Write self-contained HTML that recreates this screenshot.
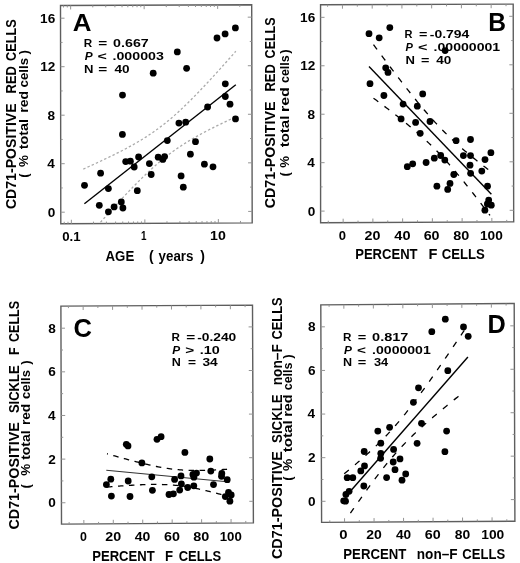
<!DOCTYPE html>
<html><head><meta charset="utf-8"><style>
html,body{margin:0;padding:0;background:#fff;}
svg{display:block;font-family:"Liberation Sans",sans-serif;filter:grayscale(1) blur(0.35px);}
text{white-space:pre;}
</style></head><body>
<svg width="520" height="563" viewBox="0 0 520 563">
<defs><clipPath id="clipA"><rect x="61.5" y="5.7" width="189.6" height="217.1"/></clipPath></defs>
<rect width="520" height="563" fill="#fff"/>
<path d="M60.50,5.50 L251.70,4.80 L252.20,222.90 L60.80,223.80 Z" fill="none" stroke="#5e5e5e" stroke-width="1.4" stroke-linejoin="miter"/>
<line x1="60.78" y1="212.20" x2="64.78" y2="212.20" stroke="#949494" stroke-width="1.0" />
<line x1="252.17" y1="211.40" x2="248.17" y2="211.40" stroke="#949494" stroke-width="1.0" />
<line x1="60.72" y1="163.70" x2="64.72" y2="163.70" stroke="#949494" stroke-width="1.0" />
<line x1="252.06" y1="162.84" x2="248.06" y2="162.84" stroke="#949494" stroke-width="1.0" />
<line x1="60.65" y1="115.20" x2="64.65" y2="115.20" stroke="#949494" stroke-width="1.0" />
<line x1="251.95" y1="114.28" x2="247.95" y2="114.28" stroke="#949494" stroke-width="1.0" />
<line x1="60.58" y1="66.70" x2="64.58" y2="66.70" stroke="#949494" stroke-width="1.0" />
<line x1="251.84" y1="65.72" x2="247.84" y2="65.72" stroke="#949494" stroke-width="1.0" />
<line x1="60.52" y1="18.20" x2="64.52" y2="18.20" stroke="#949494" stroke-width="1.0" />
<line x1="251.73" y1="17.16" x2="247.73" y2="17.16" stroke="#949494" stroke-width="1.0" />
<line x1="60.75" y1="187.95" x2="62.75" y2="187.95" stroke="#949494" stroke-width="1.0" />
<line x1="252.12" y1="187.12" x2="250.12" y2="187.12" stroke="#949494" stroke-width="1.0" />
<line x1="60.68" y1="139.45" x2="62.68" y2="139.45" stroke="#949494" stroke-width="1.0" />
<line x1="252.01" y1="138.56" x2="250.01" y2="138.56" stroke="#949494" stroke-width="1.0" />
<line x1="60.62" y1="90.95" x2="62.62" y2="90.95" stroke="#949494" stroke-width="1.0" />
<line x1="251.90" y1="90.00" x2="249.90" y2="90.00" stroke="#949494" stroke-width="1.0" />
<line x1="60.55" y1="42.45" x2="62.55" y2="42.45" stroke="#949494" stroke-width="1.0" />
<line x1="251.78" y1="41.44" x2="249.78" y2="41.44" stroke="#949494" stroke-width="1.0" />
<line x1="71.35" y1="223.75" x2="71.35" y2="219.75" stroke="#949494" stroke-width="1.0" />
<line x1="70.65" y1="5.46" x2="70.65" y2="9.46" stroke="#949494" stroke-width="1.0" />
<line x1="144.85" y1="223.40" x2="144.85" y2="219.40" stroke="#949494" stroke-width="1.0" />
<line x1="144.15" y1="5.19" x2="144.15" y2="9.19" stroke="#949494" stroke-width="1.0" />
<line x1="218.35" y1="223.06" x2="218.35" y2="219.06" stroke="#949494" stroke-width="1.0" />
<line x1="217.65" y1="4.92" x2="217.65" y2="8.92" stroke="#949494" stroke-width="1.0" />
<line x1="64.23" y1="223.78" x2="64.23" y2="221.78" stroke="#949494" stroke-width="1.0" />
<line x1="63.53" y1="5.49" x2="63.53" y2="7.49" stroke="#949494" stroke-width="1.0" />
<line x1="67.99" y1="223.77" x2="67.99" y2="221.77" stroke="#949494" stroke-width="1.0" />
<line x1="67.29" y1="5.48" x2="67.29" y2="7.48" stroke="#949494" stroke-width="1.0" />
<line x1="93.48" y1="223.65" x2="93.48" y2="221.65" stroke="#949494" stroke-width="1.0" />
<line x1="92.78" y1="5.38" x2="92.78" y2="7.38" stroke="#949494" stroke-width="1.0" />
<line x1="106.42" y1="223.59" x2="106.42" y2="221.59" stroke="#949494" stroke-width="1.0" />
<line x1="105.72" y1="5.33" x2="105.72" y2="7.33" stroke="#949494" stroke-width="1.0" />
<line x1="115.60" y1="223.54" x2="115.60" y2="221.54" stroke="#949494" stroke-width="1.0" />
<line x1="114.90" y1="5.30" x2="114.90" y2="7.30" stroke="#949494" stroke-width="1.0" />
<line x1="122.72" y1="223.51" x2="122.72" y2="221.51" stroke="#949494" stroke-width="1.0" />
<line x1="122.02" y1="5.27" x2="122.02" y2="7.27" stroke="#949494" stroke-width="1.0" />
<line x1="128.54" y1="223.48" x2="128.54" y2="221.48" stroke="#949494" stroke-width="1.0" />
<line x1="127.84" y1="5.25" x2="127.84" y2="7.25" stroke="#949494" stroke-width="1.0" />
<line x1="133.46" y1="223.46" x2="133.46" y2="221.46" stroke="#949494" stroke-width="1.0" />
<line x1="132.76" y1="5.24" x2="132.76" y2="7.24" stroke="#949494" stroke-width="1.0" />
<line x1="137.73" y1="223.44" x2="137.73" y2="221.44" stroke="#949494" stroke-width="1.0" />
<line x1="137.03" y1="5.22" x2="137.03" y2="7.22" stroke="#949494" stroke-width="1.0" />
<line x1="141.49" y1="223.42" x2="141.49" y2="221.42" stroke="#949494" stroke-width="1.0" />
<line x1="140.79" y1="5.21" x2="140.79" y2="7.21" stroke="#949494" stroke-width="1.0" />
<line x1="166.98" y1="223.30" x2="166.98" y2="221.30" stroke="#949494" stroke-width="1.0" />
<line x1="166.28" y1="5.11" x2="166.28" y2="7.11" stroke="#949494" stroke-width="1.0" />
<line x1="179.92" y1="223.24" x2="179.92" y2="221.24" stroke="#949494" stroke-width="1.0" />
<line x1="179.22" y1="5.07" x2="179.22" y2="7.07" stroke="#949494" stroke-width="1.0" />
<line x1="189.10" y1="223.20" x2="189.10" y2="221.20" stroke="#949494" stroke-width="1.0" />
<line x1="188.40" y1="5.03" x2="188.40" y2="7.03" stroke="#949494" stroke-width="1.0" />
<line x1="196.22" y1="223.16" x2="196.22" y2="221.16" stroke="#949494" stroke-width="1.0" />
<line x1="195.52" y1="5.01" x2="195.52" y2="7.01" stroke="#949494" stroke-width="1.0" />
<line x1="202.04" y1="223.14" x2="202.04" y2="221.14" stroke="#949494" stroke-width="1.0" />
<line x1="201.34" y1="4.98" x2="201.34" y2="6.98" stroke="#949494" stroke-width="1.0" />
<line x1="206.96" y1="223.11" x2="206.96" y2="221.11" stroke="#949494" stroke-width="1.0" />
<line x1="206.26" y1="4.97" x2="206.26" y2="6.97" stroke="#949494" stroke-width="1.0" />
<line x1="211.23" y1="223.09" x2="211.23" y2="221.09" stroke="#949494" stroke-width="1.0" />
<line x1="210.53" y1="4.95" x2="210.53" y2="6.95" stroke="#949494" stroke-width="1.0" />
<line x1="214.99" y1="223.07" x2="214.99" y2="221.07" stroke="#949494" stroke-width="1.0" />
<line x1="214.29" y1="4.94" x2="214.29" y2="6.94" stroke="#949494" stroke-width="1.0" />
<line x1="240.48" y1="222.96" x2="240.48" y2="220.96" stroke="#949494" stroke-width="1.0" />
<line x1="239.78" y1="4.84" x2="239.78" y2="6.84" stroke="#949494" stroke-width="1.0" />
<text x="47.74" y="216.60" font-size="12.6" font-weight="bold" textLength="7.57" lengthAdjust="spacingAndGlyphs">0</text>
<text x="47.25" y="168.10" font-size="12.6" font-weight="bold" textLength="7.57" lengthAdjust="spacingAndGlyphs">4</text>
<text x="47.61" y="119.60" font-size="12.6" font-weight="bold" textLength="7.57" lengthAdjust="spacingAndGlyphs">8</text>
<text x="40.16" y="71.10" font-size="12.6" font-weight="bold" textLength="15.14" lengthAdjust="spacingAndGlyphs">12</text>
<text x="40.11" y="22.60" font-size="12.6" font-weight="bold" textLength="15.14" lengthAdjust="spacingAndGlyphs">16</text>
<text x="62.17" y="240.80" font-size="12.6" font-weight="bold" textLength="18.40" lengthAdjust="spacingAndGlyphs">0.1</text>
<text x="141.08" y="240.00" font-size="12.6" font-weight="bold" textLength="5.50" lengthAdjust="spacingAndGlyphs">1</text>
<text x="210.01" y="240.00" font-size="12.6" font-weight="bold" textLength="15.78" lengthAdjust="spacingAndGlyphs">10</text>
<text x="105.57" y="260.80" font-size="14" font-weight="bold" textLength="28.65" lengthAdjust="spacingAndGlyphs">AGE</text>
<text x="149.10" y="260.80" font-size="14" font-weight="bold" textLength="4.66" lengthAdjust="spacingAndGlyphs">(</text>
<text x="158.59" y="260.80" font-size="14" font-weight="bold" textLength="34.85" lengthAdjust="spacingAndGlyphs">years</text>
<text x="200.19" y="260.80" font-size="14" font-weight="bold" textLength="4.66" lengthAdjust="spacingAndGlyphs">)</text>
<text transform="translate(16.20,208.50) rotate(-90)" x="-0.58" y="0" font-size="13.8" font-weight="bold" textLength="105.73" lengthAdjust="spacingAndGlyphs">CD71-POSITIVE</text>
<text transform="translate(16.20,92.60) rotate(-90)" x="-0.87" y="0" font-size="13.8" font-weight="bold" textLength="27.31" lengthAdjust="spacingAndGlyphs">RED</text>
<text transform="translate(16.20,60.40) rotate(-90)" x="-0.52" y="0" font-size="13.8" font-weight="bold" textLength="41.51" lengthAdjust="spacingAndGlyphs">CELLS</text>
<text transform="translate(27.80,177.20) rotate(-90)" x="-0.66" y="0" font-size="13.2" font-weight="bold" textLength="4.40" lengthAdjust="spacingAndGlyphs">(</text>
<text transform="translate(27.80,166.60) rotate(-90)" x="-0.33" y="0" font-size="13.2" font-weight="bold" textLength="11.88" lengthAdjust="spacingAndGlyphs">%</text>
<text transform="translate(27.80,149.20) rotate(-90)" x="-0.17" y="0" font-size="13.2" font-weight="bold" textLength="30.39" lengthAdjust="spacingAndGlyphs">total</text>
<text transform="translate(27.80,111.80) rotate(-90)" x="-0.92" y="0" font-size="13.2" font-weight="bold" textLength="21.75" lengthAdjust="spacingAndGlyphs">red</text>
<text transform="translate(27.80,86.90) rotate(-90)" x="-0.52" y="0" font-size="13.2" font-weight="bold" textLength="29.46" lengthAdjust="spacingAndGlyphs">cells</text>
<text transform="translate(27.80,54.42) rotate(-90)" x="-0.01" y="0" font-size="13.2" font-weight="bold" textLength="4.40" lengthAdjust="spacingAndGlyphs">)</text>
<text x="72.65" y="30.90" font-size="24.6" font-weight="bold" textLength="18.73" lengthAdjust="spacingAndGlyphs">A</text>
<text x="83.82" y="46.60" font-size="11.8" font-weight="bold" textLength="8.43" lengthAdjust="spacingAndGlyphs">R</text>
<text x="98.15" y="46.60" font-size="11.8" font-weight="bold" textLength="8.98" lengthAdjust="spacingAndGlyphs">=</text>
<text x="113.13" y="46.60" font-size="11.8" font-weight="bold" textLength="35.60" lengthAdjust="spacingAndGlyphs">0.667</text>
<text x="84.69" y="59.60" font-size="11.8" font-weight="bold" font-style="italic" textLength="7.90" lengthAdjust="spacingAndGlyphs">P</text>
<text x="97.53" y="59.60" font-size="11.8" font-weight="bold" textLength="9.33" lengthAdjust="spacingAndGlyphs">&lt;</text>
<text x="112.54" y="59.60" font-size="11.8" font-weight="bold" textLength="51.27" lengthAdjust="spacingAndGlyphs">.000003</text>
<text x="84.02" y="72.70" font-size="11.8" font-weight="bold" textLength="9.46" lengthAdjust="spacingAndGlyphs">N</text>
<text x="98.15" y="72.70" font-size="11.8" font-weight="bold" textLength="8.98" lengthAdjust="spacingAndGlyphs">=</text>
<text x="114.40" y="72.70" font-size="11.8" font-weight="bold" textLength="15.06" lengthAdjust="spacingAndGlyphs">40</text>
<g clip-path="url(#clipA)">
<path d="M83.30,169.08 L85.21,168.23 L87.11,167.37 L89.02,166.51 L90.92,165.64 L92.83,164.77 L94.74,163.90 L96.64,163.02 L98.55,162.13 L100.46,161.24 L102.36,160.34 L104.27,159.44 L106.17,158.53 L108.08,157.62 L109.99,156.69 L111.89,155.76 L113.80,154.82 L115.71,153.87 L117.61,152.91 L119.52,151.94 L121.42,150.97 L123.33,149.97 L125.24,148.97 L127.14,147.95 L129.05,146.92 L130.96,145.88 L132.86,144.81 L134.77,143.73 L136.68,142.63 L138.58,141.52 L140.49,140.38 L142.39,139.22 L144.30,138.03 L146.21,136.83 L148.11,135.59 L150.02,134.33 L151.93,133.04 L153.83,131.72 L155.74,130.38 L157.64,129.00 L159.55,127.59 L161.46,126.14 L163.36,124.67 L165.27,123.16 L167.18,121.61 L169.08,120.04 L170.99,118.43 L172.89,116.79 L174.80,115.12 L176.71,113.42 L178.61,111.69 L180.52,109.93 L182.43,108.14 L184.33,106.32 L186.24,104.49 L188.14,102.62 L190.05,100.74 L191.96,98.83 L193.86,96.91 L195.77,94.96 L197.68,93.00 L199.58,91.02 L201.49,89.02 L203.39,87.01 L205.30,84.99 L207.21,82.95 L209.11,80.90 L211.02,78.84 L212.93,76.77 L214.83,74.69 L216.74,72.60 L218.64,70.50 L220.55,68.40 L222.46,66.28 L224.36,64.16 L226.27,62.03 L228.18,59.90 L230.08,57.76 L231.99,55.61 L233.89,53.46 L235.80,51.30" fill="none" stroke="#aaaaaa" stroke-width="1.3" stroke-dasharray="2.4 2.2"/>
<path d="M100.46,222.32 L102.36,220.18 L104.27,218.05 L106.17,215.93 L108.08,213.81 L109.99,211.70 L111.89,209.60 L113.80,207.50 L115.71,205.42 L117.61,203.34 L119.52,201.28 L121.42,199.22 L123.33,197.18 L125.24,195.15 L127.14,193.13 L129.05,191.13 L130.96,189.14 L132.86,187.17 L134.77,185.22 L136.68,183.28 L138.58,181.37 L140.49,179.47 L142.39,177.60 L144.30,175.75 L146.21,173.93 L148.11,172.13 L150.02,170.35 L151.93,168.61 L153.83,166.89 L155.74,165.21 L157.64,163.55 L159.55,161.93 L161.46,160.34 L163.36,158.78 L165.27,157.26 L167.18,155.77 L169.08,154.31 L170.99,152.88 L172.89,151.49 L174.80,150.13 L176.71,148.80 L178.61,147.49 L180.52,146.22 L182.43,144.97 L184.33,143.75 L186.24,142.56 L188.14,141.39 L190.05,140.24 L191.96,139.11 L193.86,138.01 L195.77,136.92 L197.68,135.85 L199.58,134.79 L201.49,133.76 L203.39,132.73 L205.30,131.72 L207.21,130.73 L209.11,129.74 L211.02,128.77 L212.93,127.80 L214.83,126.85 L216.74,125.91 L218.64,124.97 L220.55,124.05 L222.46,123.13 L224.36,122.21 L226.27,121.31 L228.18,120.41 L230.08,119.52 L231.99,118.63 L233.89,117.75 L235.80,116.87" fill="none" stroke="#aaaaaa" stroke-width="1.3" stroke-dasharray="2.4 2.2"/>
</g>
<line x1="84.40" y1="203.80" x2="235.80" y2="84.80" stroke="#000" stroke-width="1.4" />
<circle cx="153.2" cy="73.2" r="3.4"/>
<circle cx="122.5" cy="95.1" r="3.4"/>
<circle cx="177.3" cy="51.9" r="3.4"/>
<circle cx="186.6" cy="68.3" r="3.4"/>
<circle cx="217.0" cy="38.0" r="3.4"/>
<circle cx="225.1" cy="33.9" r="3.4"/>
<circle cx="235.4" cy="27.9" r="3.4"/>
<circle cx="225.3" cy="83.8" r="3.4"/>
<circle cx="225.3" cy="96.5" r="3.4"/>
<circle cx="230.0" cy="104.2" r="3.4"/>
<circle cx="207.6" cy="107.0" r="3.4"/>
<circle cx="122.4" cy="134.4" r="3.4"/>
<circle cx="125.7" cy="161.6" r="3.4"/>
<circle cx="130.4" cy="161.2" r="3.4"/>
<circle cx="138.6" cy="157.0" r="3.4"/>
<circle cx="134.2" cy="167.0" r="3.4"/>
<circle cx="149.4" cy="163.6" r="3.4"/>
<circle cx="158.2" cy="157.2" r="3.4"/>
<circle cx="151.2" cy="174.5" r="3.4"/>
<circle cx="100.6" cy="173.2" r="3.4"/>
<circle cx="84.5" cy="185.3" r="3.4"/>
<circle cx="108.4" cy="188.6" r="3.4"/>
<circle cx="137.3" cy="190.7" r="3.4"/>
<circle cx="99.3" cy="205.3" r="3.4"/>
<circle cx="108.4" cy="211.8" r="3.4"/>
<circle cx="114.1" cy="206.9" r="3.4"/>
<circle cx="121.3" cy="202.0" r="3.4"/>
<circle cx="122.9" cy="208.0" r="3.4"/>
<circle cx="235.5" cy="118.9" r="3.4"/>
<circle cx="178.9" cy="123.1" r="3.4"/>
<circle cx="185.7" cy="122.2" r="3.4"/>
<circle cx="167.3" cy="140.6" r="3.4"/>
<circle cx="195.5" cy="141.7" r="3.4"/>
<circle cx="190.4" cy="154.2" r="3.4"/>
<circle cx="164.6" cy="156.6" r="3.4"/>
<circle cx="162.8" cy="159.4" r="3.4"/>
<circle cx="204.4" cy="164.2" r="3.4"/>
<circle cx="213.0" cy="166.8" r="3.4"/>
<circle cx="181.1" cy="175.9" r="3.4"/>
<circle cx="183.3" cy="187.2" r="3.4"/>
<path d="M320.55,4.77 L513.20,4.15 L513.70,221.85 L320.60,222.80 Z" fill="none" stroke="#5e5e5e" stroke-width="1.4" stroke-linejoin="miter"/>
<line x1="320.60" y1="211.10" x2="324.60" y2="211.10" stroke="#949494" stroke-width="1.0" />
<line x1="513.67" y1="210.30" x2="509.67" y2="210.30" stroke="#949494" stroke-width="1.0" />
<line x1="320.59" y1="162.66" x2="324.59" y2="162.66" stroke="#949494" stroke-width="1.0" />
<line x1="513.56" y1="161.80" x2="509.56" y2="161.80" stroke="#949494" stroke-width="1.0" />
<line x1="320.58" y1="114.22" x2="324.58" y2="114.22" stroke="#949494" stroke-width="1.0" />
<line x1="513.45" y1="113.30" x2="509.45" y2="113.30" stroke="#949494" stroke-width="1.0" />
<line x1="320.56" y1="65.78" x2="324.56" y2="65.78" stroke="#949494" stroke-width="1.0" />
<line x1="513.34" y1="64.80" x2="509.34" y2="64.80" stroke="#949494" stroke-width="1.0" />
<line x1="320.55" y1="17.34" x2="324.55" y2="17.34" stroke="#949494" stroke-width="1.0" />
<line x1="513.23" y1="16.30" x2="509.23" y2="16.30" stroke="#949494" stroke-width="1.0" />
<line x1="320.59" y1="186.88" x2="322.59" y2="186.88" stroke="#949494" stroke-width="1.0" />
<line x1="513.62" y1="186.05" x2="511.62" y2="186.05" stroke="#949494" stroke-width="1.0" />
<line x1="320.58" y1="138.44" x2="322.58" y2="138.44" stroke="#949494" stroke-width="1.0" />
<line x1="513.51" y1="137.55" x2="511.51" y2="137.55" stroke="#949494" stroke-width="1.0" />
<line x1="320.57" y1="90.00" x2="322.57" y2="90.00" stroke="#949494" stroke-width="1.0" />
<line x1="513.39" y1="89.05" x2="511.39" y2="89.05" stroke="#949494" stroke-width="1.0" />
<line x1="320.56" y1="41.56" x2="322.56" y2="41.56" stroke="#949494" stroke-width="1.0" />
<line x1="513.28" y1="40.55" x2="511.28" y2="40.55" stroke="#949494" stroke-width="1.0" />
<line x1="343.15" y1="222.69" x2="343.15" y2="218.69" stroke="#949494" stroke-width="1.0" />
<line x1="342.45" y1="4.70" x2="342.45" y2="8.70" stroke="#949494" stroke-width="1.0" />
<line x1="372.89" y1="222.54" x2="372.89" y2="218.54" stroke="#949494" stroke-width="1.0" />
<line x1="372.19" y1="4.60" x2="372.19" y2="8.60" stroke="#949494" stroke-width="1.0" />
<line x1="402.63" y1="222.40" x2="402.63" y2="218.40" stroke="#949494" stroke-width="1.0" />
<line x1="401.93" y1="4.51" x2="401.93" y2="8.51" stroke="#949494" stroke-width="1.0" />
<line x1="432.37" y1="222.25" x2="432.37" y2="218.25" stroke="#949494" stroke-width="1.0" />
<line x1="431.67" y1="4.41" x2="431.67" y2="8.41" stroke="#949494" stroke-width="1.0" />
<line x1="462.11" y1="222.10" x2="462.11" y2="218.10" stroke="#949494" stroke-width="1.0" />
<line x1="461.41" y1="4.32" x2="461.41" y2="8.32" stroke="#949494" stroke-width="1.0" />
<line x1="491.85" y1="221.96" x2="491.85" y2="217.96" stroke="#949494" stroke-width="1.0" />
<line x1="491.15" y1="4.22" x2="491.15" y2="8.22" stroke="#949494" stroke-width="1.0" />
<line x1="328.28" y1="222.76" x2="328.28" y2="220.76" stroke="#949494" stroke-width="1.0" />
<line x1="327.58" y1="4.75" x2="327.58" y2="6.75" stroke="#949494" stroke-width="1.0" />
<line x1="358.02" y1="222.62" x2="358.02" y2="220.62" stroke="#949494" stroke-width="1.0" />
<line x1="357.32" y1="4.65" x2="357.32" y2="6.65" stroke="#949494" stroke-width="1.0" />
<line x1="387.76" y1="222.47" x2="387.76" y2="220.47" stroke="#949494" stroke-width="1.0" />
<line x1="387.06" y1="4.56" x2="387.06" y2="6.56" stroke="#949494" stroke-width="1.0" />
<line x1="417.50" y1="222.32" x2="417.50" y2="220.32" stroke="#949494" stroke-width="1.0" />
<line x1="416.80" y1="4.46" x2="416.80" y2="6.46" stroke="#949494" stroke-width="1.0" />
<line x1="447.24" y1="222.18" x2="447.24" y2="220.18" stroke="#949494" stroke-width="1.0" />
<line x1="446.54" y1="4.36" x2="446.54" y2="6.36" stroke="#949494" stroke-width="1.0" />
<line x1="476.98" y1="222.03" x2="476.98" y2="220.03" stroke="#949494" stroke-width="1.0" />
<line x1="476.28" y1="4.27" x2="476.28" y2="6.27" stroke="#949494" stroke-width="1.0" />
<line x1="506.72" y1="221.88" x2="506.72" y2="219.88" stroke="#949494" stroke-width="1.0" />
<line x1="506.02" y1="4.17" x2="506.02" y2="6.17" stroke="#949494" stroke-width="1.0" />
<text x="307.74" y="215.50" font-size="12.6" font-weight="bold" textLength="7.57" lengthAdjust="spacingAndGlyphs">0</text>
<text x="307.25" y="167.06" font-size="12.6" font-weight="bold" textLength="7.57" lengthAdjust="spacingAndGlyphs">4</text>
<text x="307.61" y="118.62" font-size="12.6" font-weight="bold" textLength="7.57" lengthAdjust="spacingAndGlyphs">8</text>
<text x="300.16" y="70.18" font-size="12.6" font-weight="bold" textLength="15.14" lengthAdjust="spacingAndGlyphs">12</text>
<text x="300.11" y="21.74" font-size="12.6" font-weight="bold" textLength="15.14" lengthAdjust="spacingAndGlyphs">16</text>
<text x="338.88" y="239.80" font-size="12.6" font-weight="bold" textLength="7.26" lengthAdjust="spacingAndGlyphs">0</text>
<text x="364.50" y="239.80" font-size="12.6" font-weight="bold" textLength="15.89" lengthAdjust="spacingAndGlyphs">20</text>
<text x="394.38" y="239.80" font-size="12.6" font-weight="bold" textLength="16.22" lengthAdjust="spacingAndGlyphs">40</text>
<text x="423.67" y="239.80" font-size="12.6" font-weight="bold" textLength="15.92" lengthAdjust="spacingAndGlyphs">60</text>
<text x="453.34" y="239.80" font-size="12.6" font-weight="bold" textLength="16.06" lengthAdjust="spacingAndGlyphs">80</text>
<text x="479.94" y="239.80" font-size="12.6" font-weight="bold" textLength="22.83" lengthAdjust="spacingAndGlyphs">100</text>
<text x="355.23" y="259.20" font-size="14" font-weight="bold" textLength="62.31" lengthAdjust="spacingAndGlyphs">PERCENT</text>
<text x="428.52" y="259.20" font-size="14" font-weight="bold" textLength="8.92" lengthAdjust="spacingAndGlyphs">F</text>
<text x="441.66" y="259.20" font-size="14" font-weight="bold" textLength="43.05" lengthAdjust="spacingAndGlyphs">CELLS</text>
<text transform="translate(275.00,207.60) rotate(-90)" x="-0.58" y="0" font-size="13.8" font-weight="bold" textLength="106.54" lengthAdjust="spacingAndGlyphs">CD71-POSITIVE</text>
<text transform="translate(275.00,90.70) rotate(-90)" x="-0.87" y="0" font-size="13.8" font-weight="bold" textLength="27.42" lengthAdjust="spacingAndGlyphs">RED</text>
<text transform="translate(275.00,57.90) rotate(-90)" x="-0.51" y="0" font-size="13.8" font-weight="bold" textLength="41.00" lengthAdjust="spacingAndGlyphs">CELLS</text>
<text transform="translate(288.60,175.80) rotate(-90)" x="-0.66" y="0" font-size="13.2" font-weight="bold" textLength="4.40" lengthAdjust="spacingAndGlyphs">(</text>
<text transform="translate(288.60,167.30) rotate(-90)" x="-0.33" y="0" font-size="13.2" font-weight="bold" textLength="11.78" lengthAdjust="spacingAndGlyphs">%</text>
<text transform="translate(288.60,147.10) rotate(-90)" x="-0.18" y="0" font-size="13.2" font-weight="bold" textLength="31.64" lengthAdjust="spacingAndGlyphs">total</text>
<text transform="translate(288.60,111.00) rotate(-90)" x="-1.05" y="0" font-size="13.2" font-weight="bold" textLength="24.81" lengthAdjust="spacingAndGlyphs">red</text>
<text transform="translate(288.60,82.60) rotate(-90)" x="-0.49" y="0" font-size="13.2" font-weight="bold" textLength="27.91" lengthAdjust="spacingAndGlyphs">cells</text>
<text transform="translate(288.60,53.72) rotate(-90)" x="-0.01" y="0" font-size="13.2" font-weight="bold" textLength="4.40" lengthAdjust="spacingAndGlyphs">)</text>
<text x="488.35" y="30.80" font-size="25.9" font-weight="bold" textLength="17.76" lengthAdjust="spacingAndGlyphs">B</text>
<text x="404.56" y="38.00" font-size="11.8" font-weight="bold" textLength="7.97" lengthAdjust="spacingAndGlyphs">R</text>
<text x="419.10" y="38.00" font-size="11.8" font-weight="bold" textLength="8.39" lengthAdjust="spacingAndGlyphs">=</text>
<text x="429.76" y="38.00" font-size="11.8" font-weight="bold" textLength="39.52" lengthAdjust="spacingAndGlyphs">-0.794</text>
<text x="405.60" y="51.00" font-size="11.8" font-weight="bold" font-style="italic" textLength="7.39" lengthAdjust="spacingAndGlyphs">P</text>
<text x="418.12" y="51.00" font-size="11.8" font-weight="bold" textLength="9.44" lengthAdjust="spacingAndGlyphs">&lt;</text>
<text x="433.64" y="51.00" font-size="11.8" font-weight="bold" textLength="66.55" lengthAdjust="spacingAndGlyphs">.00000001</text>
<text x="405.42" y="63.80" font-size="11.8" font-weight="bold" textLength="9.46" lengthAdjust="spacingAndGlyphs">N</text>
<text x="421.00" y="63.80" font-size="11.8" font-weight="bold" textLength="8.39" lengthAdjust="spacingAndGlyphs">=</text>
<text x="436.30" y="63.80" font-size="11.8" font-weight="bold" textLength="15.06" lengthAdjust="spacingAndGlyphs">40</text>
<path d="M373.50,44.63 L374.96,46.59 L376.41,48.56 L377.87,50.52 L379.32,52.47 L380.78,54.42 L382.24,56.37 L383.69,58.32 L385.15,60.26 L386.61,62.20 L388.06,64.14 L389.52,66.07 L390.98,68.00 L392.43,69.92 L393.89,71.84 L395.34,73.75 L396.80,75.66 L398.26,77.56 L399.71,79.45 L401.17,81.34 L402.62,83.22 L404.08,85.10 L405.54,86.96 L406.99,88.82 L408.45,90.67 L409.91,92.51 L411.36,94.34 L412.82,96.16 L414.27,97.97 L415.73,99.77 L417.19,101.56 L418.64,103.33 L420.10,105.09 L421.56,106.84 L423.01,108.57 L424.47,110.29 L425.93,111.99 L427.38,113.68 L428.84,115.35 L430.29,117.00 L431.75,118.63 L433.21,120.25 L434.66,121.84 L436.12,123.42 L437.57,124.97 L439.03,126.51 L440.49,128.03 L441.94,129.53 L443.40,131.01 L444.86,132.47 L446.31,133.91 L447.77,135.33 L449.23,136.74 L450.68,138.12 L452.14,139.49 L453.59,140.84 L455.05,142.18 L456.51,143.50 L457.96,144.81 L459.42,146.10 L460.88,147.38 L462.33,148.64 L463.79,149.90 L465.24,151.14 L466.70,152.37 L468.16,153.59 L469.61,154.80 L471.07,156.00 L472.52,157.19 L473.98,158.37 L475.44,159.54 L476.89,160.71 L478.35,161.87 L479.81,163.02 L481.26,164.17 L482.72,165.31 L484.18,166.45 L485.63,167.58 L487.09,168.70 L488.54,169.82 L490.00,170.94" fill="none" stroke="#000" stroke-width="1.3" stroke-dasharray="6 7.7"/>
<path d="M373.50,98.16 L374.96,99.24 L376.41,100.33 L377.87,101.41 L379.32,102.50 L380.78,103.59 L382.24,104.69 L383.69,105.79 L385.15,106.89 L386.61,107.99 L388.06,109.10 L389.52,110.22 L390.98,111.33 L392.43,112.46 L393.89,113.58 L395.34,114.72 L396.80,115.85 L398.26,117.00 L399.71,118.15 L401.17,119.30 L402.62,120.47 L404.08,121.64 L405.54,122.81 L406.99,124.00 L408.45,125.20 L409.91,126.40 L411.36,127.61 L412.82,128.84 L414.27,130.07 L415.73,131.32 L417.19,132.58 L418.64,133.85 L420.10,135.13 L421.56,136.43 L423.01,137.74 L424.47,139.07 L425.93,140.41 L427.38,141.77 L428.84,143.15 L430.29,144.54 L431.75,145.95 L433.21,147.38 L434.66,148.83 L436.12,150.30 L437.57,151.79 L439.03,153.29 L440.49,154.82 L441.94,156.37 L443.40,157.93 L444.86,159.52 L446.31,161.12 L447.77,162.74 L449.23,164.38 L450.68,166.04 L452.14,167.72 L453.59,169.41 L455.05,171.12 L456.51,172.84 L457.96,174.58 L459.42,176.33 L460.88,178.10 L462.33,179.88 L463.79,181.67 L465.24,183.48 L466.70,185.29 L468.16,187.12 L469.61,188.95 L471.07,190.80 L472.52,192.65 L473.98,194.51 L475.44,196.38 L476.89,198.26 L478.35,200.14 L479.81,202.03 L481.26,203.93 L482.72,205.84 L484.18,207.74 L485.63,209.66 L487.09,211.58 L488.54,213.50 L490.00,215.43" fill="none" stroke="#000" stroke-width="1.3" stroke-dasharray="6 7.7"/>
<line x1="369.00" y1="66.50" x2="491.40" y2="194.30" stroke="#000" stroke-width="1.4" />
<circle cx="369.0" cy="33.7" r="3.4"/>
<circle cx="379.2" cy="37.8" r="3.4"/>
<circle cx="389.8" cy="27.6" r="3.4"/>
<circle cx="385.7" cy="67.8" r="3.4"/>
<circle cx="388.0" cy="72.4" r="3.4"/>
<circle cx="370.0" cy="83.7" r="3.4"/>
<circle cx="383.9" cy="95.5" r="3.4"/>
<circle cx="403.1" cy="104.1" r="3.4"/>
<circle cx="417.3" cy="106.2" r="3.4"/>
<circle cx="445.1" cy="50.6" r="3.4"/>
<circle cx="422.7" cy="93.9" r="3.4"/>
<circle cx="401.1" cy="118.9" r="3.4"/>
<circle cx="415.6" cy="122.4" r="3.4"/>
<circle cx="420.2" cy="133.3" r="3.4"/>
<circle cx="407.3" cy="166.7" r="3.4"/>
<circle cx="412.7" cy="163.8" r="3.4"/>
<circle cx="430.0" cy="121.5" r="3.4"/>
<circle cx="456.1" cy="140.7" r="3.4"/>
<circle cx="470.5" cy="139.5" r="3.4"/>
<circle cx="463.4" cy="155.6" r="3.4"/>
<circle cx="470.5" cy="155.6" r="3.4"/>
<circle cx="490.9" cy="152.7" r="3.4"/>
<circle cx="485.0" cy="159.6" r="3.4"/>
<circle cx="470.0" cy="165.2" r="3.4"/>
<circle cx="470.6" cy="173.3" r="3.4"/>
<circle cx="481.8" cy="171.1" r="3.4"/>
<circle cx="426.1" cy="162.5" r="3.4"/>
<circle cx="434.3" cy="158.2" r="3.4"/>
<circle cx="440.7" cy="155.5" r="3.4"/>
<circle cx="444.8" cy="160.1" r="3.4"/>
<circle cx="453.8" cy="174.5" r="3.4"/>
<circle cx="450.0" cy="183.4" r="3.4"/>
<circle cx="436.9" cy="186.2" r="3.4"/>
<circle cx="447.7" cy="189.4" r="3.4"/>
<circle cx="487.5" cy="186.2" r="3.4"/>
<circle cx="488.7" cy="200.1" r="3.4"/>
<circle cx="487.4" cy="204.0" r="3.4"/>
<circle cx="491.3" cy="205.2" r="3.4"/>
<circle cx="484.9" cy="210.2" r="3.4"/>
<path d="M60.90,306.15 L252.50,305.10 L253.40,522.90 L61.50,524.15 Z" fill="none" stroke="#5e5e5e" stroke-width="1.4" stroke-linejoin="miter"/>
<line x1="61.44" y1="502.75" x2="65.44" y2="502.75" stroke="#949494" stroke-width="1.0" />
<line x1="253.31" y1="501.30" x2="249.31" y2="501.30" stroke="#949494" stroke-width="1.0" />
<line x1="61.32" y1="459.11" x2="65.32" y2="459.11" stroke="#949494" stroke-width="1.0" />
<line x1="253.13" y1="457.70" x2="249.13" y2="457.70" stroke="#949494" stroke-width="1.0" />
<line x1="61.20" y1="415.47" x2="65.20" y2="415.47" stroke="#949494" stroke-width="1.0" />
<line x1="252.95" y1="414.10" x2="248.95" y2="414.10" stroke="#949494" stroke-width="1.0" />
<line x1="61.08" y1="371.83" x2="65.08" y2="371.83" stroke="#949494" stroke-width="1.0" />
<line x1="252.77" y1="370.50" x2="248.77" y2="370.50" stroke="#949494" stroke-width="1.0" />
<line x1="60.96" y1="328.19" x2="64.96" y2="328.19" stroke="#949494" stroke-width="1.0" />
<line x1="252.59" y1="326.90" x2="248.59" y2="326.90" stroke="#949494" stroke-width="1.0" />
<line x1="61.38" y1="480.93" x2="63.38" y2="480.93" stroke="#949494" stroke-width="1.0" />
<line x1="253.22" y1="479.50" x2="251.22" y2="479.50" stroke="#949494" stroke-width="1.0" />
<line x1="61.26" y1="437.29" x2="63.26" y2="437.29" stroke="#949494" stroke-width="1.0" />
<line x1="253.04" y1="435.90" x2="251.04" y2="435.90" stroke="#949494" stroke-width="1.0" />
<line x1="61.14" y1="393.65" x2="63.14" y2="393.65" stroke="#949494" stroke-width="1.0" />
<line x1="252.86" y1="392.30" x2="250.86" y2="392.30" stroke="#949494" stroke-width="1.0" />
<line x1="61.02" y1="350.01" x2="63.02" y2="350.01" stroke="#949494" stroke-width="1.0" />
<line x1="252.68" y1="348.70" x2="250.68" y2="348.70" stroke="#949494" stroke-width="1.0" />
<line x1="83.85" y1="524.00" x2="83.85" y2="520.00" stroke="#949494" stroke-width="1.0" />
<line x1="83.15" y1="306.03" x2="83.15" y2="310.03" stroke="#949494" stroke-width="1.0" />
<line x1="113.29" y1="523.81" x2="113.29" y2="519.81" stroke="#949494" stroke-width="1.0" />
<line x1="112.59" y1="305.87" x2="112.59" y2="309.87" stroke="#949494" stroke-width="1.0" />
<line x1="142.73" y1="523.62" x2="142.73" y2="519.62" stroke="#949494" stroke-width="1.0" />
<line x1="142.03" y1="305.71" x2="142.03" y2="309.71" stroke="#949494" stroke-width="1.0" />
<line x1="172.17" y1="523.43" x2="172.17" y2="519.43" stroke="#949494" stroke-width="1.0" />
<line x1="171.47" y1="305.54" x2="171.47" y2="309.54" stroke="#949494" stroke-width="1.0" />
<line x1="201.61" y1="523.24" x2="201.61" y2="519.24" stroke="#949494" stroke-width="1.0" />
<line x1="200.91" y1="305.38" x2="200.91" y2="309.38" stroke="#949494" stroke-width="1.0" />
<line x1="231.05" y1="523.05" x2="231.05" y2="519.05" stroke="#949494" stroke-width="1.0" />
<line x1="230.35" y1="305.22" x2="230.35" y2="309.22" stroke="#949494" stroke-width="1.0" />
<line x1="69.13" y1="524.10" x2="69.13" y2="522.10" stroke="#949494" stroke-width="1.0" />
<line x1="68.43" y1="306.11" x2="68.43" y2="308.11" stroke="#949494" stroke-width="1.0" />
<line x1="98.57" y1="523.91" x2="98.57" y2="521.91" stroke="#949494" stroke-width="1.0" />
<line x1="97.87" y1="305.95" x2="97.87" y2="307.95" stroke="#949494" stroke-width="1.0" />
<line x1="128.01" y1="523.72" x2="128.01" y2="521.72" stroke="#949494" stroke-width="1.0" />
<line x1="127.31" y1="305.79" x2="127.31" y2="307.79" stroke="#949494" stroke-width="1.0" />
<line x1="157.45" y1="523.52" x2="157.45" y2="521.52" stroke="#949494" stroke-width="1.0" />
<line x1="156.75" y1="305.62" x2="156.75" y2="307.62" stroke="#949494" stroke-width="1.0" />
<line x1="186.89" y1="523.33" x2="186.89" y2="521.33" stroke="#949494" stroke-width="1.0" />
<line x1="186.19" y1="305.46" x2="186.19" y2="307.46" stroke="#949494" stroke-width="1.0" />
<line x1="216.33" y1="523.14" x2="216.33" y2="521.14" stroke="#949494" stroke-width="1.0" />
<line x1="215.63" y1="305.30" x2="215.63" y2="307.30" stroke="#949494" stroke-width="1.0" />
<line x1="245.77" y1="522.95" x2="245.77" y2="520.95" stroke="#949494" stroke-width="1.0" />
<line x1="245.07" y1="305.14" x2="245.07" y2="307.14" stroke="#949494" stroke-width="1.0" />
<text x="48.39" y="507.15" font-size="12.6" font-weight="bold" textLength="7.57" lengthAdjust="spacingAndGlyphs">0</text>
<text x="48.38" y="463.51" font-size="12.6" font-weight="bold" textLength="7.57" lengthAdjust="spacingAndGlyphs">2</text>
<text x="47.90" y="419.87" font-size="12.6" font-weight="bold" textLength="7.57" lengthAdjust="spacingAndGlyphs">4</text>
<text x="48.32" y="376.23" font-size="12.6" font-weight="bold" textLength="7.57" lengthAdjust="spacingAndGlyphs">6</text>
<text x="48.26" y="332.59" font-size="12.6" font-weight="bold" textLength="7.57" lengthAdjust="spacingAndGlyphs">8</text>
<text x="79.90" y="540.80" font-size="12.6" font-weight="bold" textLength="6.91" lengthAdjust="spacingAndGlyphs">0</text>
<text x="105.30" y="540.80" font-size="12.6" font-weight="bold" textLength="15.89" lengthAdjust="spacingAndGlyphs">20</text>
<text x="134.79" y="540.80" font-size="12.6" font-weight="bold" textLength="15.59" lengthAdjust="spacingAndGlyphs">40</text>
<text x="164.07" y="540.80" font-size="12.6" font-weight="bold" textLength="15.92" lengthAdjust="spacingAndGlyphs">60</text>
<text x="193.34" y="540.80" font-size="12.6" font-weight="bold" textLength="16.06" lengthAdjust="spacingAndGlyphs">80</text>
<text x="219.77" y="540.80" font-size="12.6" font-weight="bold" textLength="22.08" lengthAdjust="spacingAndGlyphs">100</text>
<text x="92.22" y="560.60" font-size="14" font-weight="bold" textLength="62.51" lengthAdjust="spacingAndGlyphs">PERCENT</text>
<text x="164.91" y="560.60" font-size="14" font-weight="bold" textLength="8.07" lengthAdjust="spacingAndGlyphs">F</text>
<text x="178.67" y="560.60" font-size="14" font-weight="bold" textLength="42.43" lengthAdjust="spacingAndGlyphs">CELLS</text>
<text transform="translate(19.00,528.90) rotate(-90)" x="-0.59" y="0" font-size="13.8" font-weight="bold" textLength="107.24" lengthAdjust="spacingAndGlyphs">CD71-POSITIVE</text>
<text transform="translate(19.00,412.70) rotate(-90)" x="-0.38" y="0" font-size="13.8" font-weight="bold" textLength="47.68" lengthAdjust="spacingAndGlyphs">SICKLE</text>
<text transform="translate(19.00,354.20) rotate(-90)" x="-0.85" y="0" font-size="13.8" font-weight="bold" textLength="7.71" lengthAdjust="spacingAndGlyphs">F</text>
<text transform="translate(19.00,341.50) rotate(-90)" x="-0.51" y="0" font-size="13.8" font-weight="bold" textLength="41.10" lengthAdjust="spacingAndGlyphs">CELLS</text>
<text transform="translate(30.00,487.80) rotate(-90)" x="-0.66" y="0" font-size="13.2" font-weight="bold" textLength="4.40" lengthAdjust="spacingAndGlyphs">(</text>
<text transform="translate(30.00,475.30) rotate(-90)" x="-0.34" y="0" font-size="13.2" font-weight="bold" textLength="11.99" lengthAdjust="spacingAndGlyphs">%</text>
<text transform="translate(30.00,459.70) rotate(-90)" x="-0.17" y="0" font-size="13.2" font-weight="bold" textLength="29.56" lengthAdjust="spacingAndGlyphs">total</text>
<text transform="translate(30.00,424.20) rotate(-90)" x="-0.90" y="0" font-size="13.2" font-weight="bold" textLength="21.31" lengthAdjust="spacingAndGlyphs">red</text>
<text transform="translate(30.00,398.40) rotate(-90)" x="-0.51" y="0" font-size="13.2" font-weight="bold" textLength="28.84" lengthAdjust="spacingAndGlyphs">cells</text>
<text transform="translate(30.00,364.82) rotate(-90)" x="-0.01" y="0" font-size="13.2" font-weight="bold" textLength="4.40" lengthAdjust="spacingAndGlyphs">)</text>
<text x="73.55" y="336.50" font-size="25.5" font-weight="bold" textLength="18.44" lengthAdjust="spacingAndGlyphs">C</text>
<text x="171.52" y="340.80" font-size="11.8" font-weight="bold" textLength="8.43" lengthAdjust="spacingAndGlyphs">R</text>
<text x="186.25" y="340.80" font-size="11.8" font-weight="bold" textLength="8.98" lengthAdjust="spacingAndGlyphs">=</text>
<text x="197.16" y="340.80" font-size="11.8" font-weight="bold" textLength="39.11" lengthAdjust="spacingAndGlyphs">-0.240</text>
<text x="172.39" y="353.60" font-size="11.8" font-weight="bold" font-style="italic" textLength="7.90" lengthAdjust="spacingAndGlyphs">P</text>
<text x="185.15" y="353.60" font-size="11.8" font-weight="bold" textLength="8.98" lengthAdjust="spacingAndGlyphs">&gt;</text>
<text x="199.82" y="353.60" font-size="11.8" font-weight="bold" textLength="19.97" lengthAdjust="spacingAndGlyphs">.10</text>
<text x="171.76" y="366.30" font-size="11.8" font-weight="bold" textLength="9.09" lengthAdjust="spacingAndGlyphs">N</text>
<text x="187.92" y="366.30" font-size="11.8" font-weight="bold" textLength="8.04" lengthAdjust="spacingAndGlyphs">=</text>
<text x="202.48" y="366.30" font-size="11.8" font-weight="bold" textLength="15.29" lengthAdjust="spacingAndGlyphs">34</text>
<path d="M107.00,453.73 L108.55,454.17 L110.10,454.62 L111.65,455.06 L113.20,455.50 L114.75,455.94 L116.30,456.38 L117.85,456.81 L119.40,457.25 L120.95,457.68 L122.50,458.10 L124.05,458.53 L125.60,458.95 L127.15,459.37 L128.70,459.79 L130.25,460.20 L131.80,460.61 L133.35,461.02 L134.90,461.42 L136.45,461.82 L138.00,462.22 L139.55,462.61 L141.10,462.99 L142.65,463.37 L144.20,463.74 L145.75,464.11 L147.30,464.47 L148.85,464.83 L150.40,465.18 L151.95,465.52 L153.50,465.85 L155.05,466.17 L156.60,466.49 L158.15,466.79 L159.70,467.09 L161.25,467.37 L162.80,467.64 L164.35,467.91 L165.90,468.16 L167.45,468.40 L169.00,468.62 L170.55,468.84 L172.10,469.04 L173.65,469.22 L175.20,469.40 L176.75,469.56 L178.30,469.70 L179.85,469.84 L181.40,469.96 L182.95,470.06 L184.50,470.16 L186.05,470.24 L187.60,470.31 L189.15,470.36 L190.70,470.41 L192.25,470.44 L193.80,470.47 L195.35,470.48 L196.90,470.49 L198.45,470.48 L200.00,470.47 L201.55,470.45 L203.10,470.42 L204.65,470.38 L206.20,470.34 L207.75,470.29 L209.30,470.23 L210.85,470.17 L212.40,470.10 L213.95,470.03 L215.50,469.95 L217.05,469.87 L218.60,469.79 L220.15,469.70 L221.70,469.61 L223.25,469.51 L224.80,469.41 L226.35,469.31 L227.90,469.20 L229.45,469.09 L231.00,468.98" fill="none" stroke="#000" stroke-width="1.3" stroke-dasharray="5.5 5.5" stroke-dashoffset="4.5"/>
<path d="M107.00,487.06 L108.55,486.93 L110.10,486.80 L111.65,486.68 L113.20,486.55 L114.75,486.43 L116.30,486.31 L117.85,486.19 L119.40,486.07 L120.95,485.96 L122.50,485.85 L124.05,485.74 L125.60,485.63 L127.15,485.53 L128.70,485.42 L130.25,485.33 L131.80,485.23 L133.35,485.14 L134.90,485.06 L136.45,484.97 L138.00,484.90 L139.55,484.82 L141.10,484.75 L142.65,484.69 L144.20,484.63 L145.75,484.58 L147.30,484.54 L148.85,484.50 L150.40,484.47 L151.95,484.44 L153.50,484.43 L155.05,484.42 L156.60,484.42 L158.15,484.43 L159.70,484.45 L161.25,484.48 L162.80,484.53 L164.35,484.58 L165.90,484.65 L167.45,484.72 L169.00,484.81 L170.55,484.92 L172.10,485.03 L173.65,485.16 L175.20,485.30 L176.75,485.46 L178.30,485.63 L179.85,485.81 L181.40,486.01 L182.95,486.22 L184.50,486.44 L186.05,486.68 L187.60,486.92 L189.15,487.18 L190.70,487.45 L192.25,487.73 L193.80,488.03 L195.35,488.33 L196.90,488.64 L198.45,488.96 L200.00,489.29 L201.55,489.63 L203.10,489.97 L204.65,490.33 L206.20,490.69 L207.75,491.05 L209.30,491.43 L210.85,491.80 L212.40,492.19 L213.95,492.57 L215.50,492.97 L217.05,493.36 L218.60,493.77 L220.15,494.17 L221.70,494.58 L223.25,494.99 L224.80,495.41 L226.35,495.83 L227.90,496.25 L229.45,496.68 L231.00,497.10" fill="none" stroke="#000" stroke-width="1.3" stroke-dasharray="5.5 5.5"/>
<line x1="106.30" y1="470.20" x2="229.80" y2="482.00" stroke="#333" stroke-width="1.15" />
<circle cx="126.3" cy="444.3" r="3.4"/>
<circle cx="128.0" cy="445.9" r="3.4"/>
<circle cx="157.0" cy="439.3" r="3.4"/>
<circle cx="141.9" cy="462.9" r="3.4"/>
<circle cx="110.8" cy="479.2" r="3.4"/>
<circle cx="106.4" cy="484.6" r="3.4"/>
<circle cx="128.2" cy="481.0" r="3.4"/>
<circle cx="151.8" cy="476.8" r="3.4"/>
<circle cx="152.4" cy="490.3" r="3.4"/>
<circle cx="111.4" cy="496.1" r="3.4"/>
<circle cx="130.0" cy="496.5" r="3.4"/>
<circle cx="161.1" cy="436.7" r="3.4"/>
<circle cx="184.9" cy="452.4" r="3.4"/>
<circle cx="209.8" cy="459.0" r="3.4"/>
<circle cx="210.8" cy="471.1" r="3.4"/>
<circle cx="221.8" cy="473.4" r="3.4"/>
<circle cx="221.5" cy="476.3" r="3.4"/>
<circle cx="227.2" cy="479.7" r="3.4"/>
<circle cx="213.5" cy="484.6" r="3.4"/>
<circle cx="174.6" cy="479.4" r="3.4"/>
<circle cx="181.0" cy="475.9" r="3.4"/>
<circle cx="181.4" cy="483.9" r="3.4"/>
<circle cx="179.7" cy="490.1" r="3.4"/>
<circle cx="187.7" cy="487.5" r="3.4"/>
<circle cx="193.8" cy="485.8" r="3.4"/>
<circle cx="192.9" cy="474.4" r="3.4"/>
<circle cx="196.5" cy="473.1" r="3.4"/>
<circle cx="193.9" cy="477.2" r="3.4"/>
<circle cx="169.0" cy="494.5" r="3.4"/>
<circle cx="173.4" cy="493.8" r="3.4"/>
<circle cx="225.3" cy="496.6" r="3.4"/>
<circle cx="228.5" cy="492.5" r="3.4"/>
<circle cx="231.2" cy="495.0" r="3.4"/>
<circle cx="229.9" cy="501.2" r="3.4"/>
<path d="M320.80,304.90 L514.20,303.50 L514.90,521.20 L321.60,522.40 Z" fill="none" stroke="#5e5e5e" stroke-width="1.4" stroke-linejoin="miter"/>
<line x1="321.52" y1="501.30" x2="325.52" y2="501.30" stroke="#949494" stroke-width="1.0" />
<line x1="514.83" y1="499.60" x2="510.83" y2="499.60" stroke="#949494" stroke-width="1.0" />
<line x1="321.36" y1="457.68" x2="325.36" y2="457.68" stroke="#949494" stroke-width="1.0" />
<line x1="514.69" y1="456.16" x2="510.69" y2="456.16" stroke="#949494" stroke-width="1.0" />
<line x1="321.20" y1="414.06" x2="325.20" y2="414.06" stroke="#949494" stroke-width="1.0" />
<line x1="514.55" y1="412.72" x2="510.55" y2="412.72" stroke="#949494" stroke-width="1.0" />
<line x1="321.04" y1="370.44" x2="325.04" y2="370.44" stroke="#949494" stroke-width="1.0" />
<line x1="514.41" y1="369.28" x2="510.41" y2="369.28" stroke="#949494" stroke-width="1.0" />
<line x1="320.88" y1="326.82" x2="324.88" y2="326.82" stroke="#949494" stroke-width="1.0" />
<line x1="514.27" y1="325.84" x2="510.27" y2="325.84" stroke="#949494" stroke-width="1.0" />
<line x1="321.44" y1="479.49" x2="323.44" y2="479.49" stroke="#949494" stroke-width="1.0" />
<line x1="514.76" y1="477.88" x2="512.76" y2="477.88" stroke="#949494" stroke-width="1.0" />
<line x1="321.28" y1="435.87" x2="323.28" y2="435.87" stroke="#949494" stroke-width="1.0" />
<line x1="514.62" y1="434.44" x2="512.62" y2="434.44" stroke="#949494" stroke-width="1.0" />
<line x1="321.12" y1="392.25" x2="323.12" y2="392.25" stroke="#949494" stroke-width="1.0" />
<line x1="514.48" y1="391.00" x2="512.48" y2="391.00" stroke="#949494" stroke-width="1.0" />
<line x1="320.96" y1="348.63" x2="322.96" y2="348.63" stroke="#949494" stroke-width="1.0" />
<line x1="514.34" y1="347.56" x2="512.34" y2="347.56" stroke="#949494" stroke-width="1.0" />
<line x1="344.55" y1="522.26" x2="344.55" y2="518.26" stroke="#949494" stroke-width="1.0" />
<line x1="343.85" y1="304.73" x2="343.85" y2="308.73" stroke="#949494" stroke-width="1.0" />
<line x1="374.05" y1="522.07" x2="374.05" y2="518.07" stroke="#949494" stroke-width="1.0" />
<line x1="373.35" y1="304.52" x2="373.35" y2="308.52" stroke="#949494" stroke-width="1.0" />
<line x1="403.55" y1="521.89" x2="403.55" y2="517.89" stroke="#949494" stroke-width="1.0" />
<line x1="402.85" y1="304.31" x2="402.85" y2="308.31" stroke="#949494" stroke-width="1.0" />
<line x1="433.05" y1="521.71" x2="433.05" y2="517.71" stroke="#949494" stroke-width="1.0" />
<line x1="432.35" y1="304.09" x2="432.35" y2="308.09" stroke="#949494" stroke-width="1.0" />
<line x1="462.55" y1="521.52" x2="462.55" y2="517.52" stroke="#949494" stroke-width="1.0" />
<line x1="461.85" y1="303.88" x2="461.85" y2="307.88" stroke="#949494" stroke-width="1.0" />
<line x1="492.05" y1="521.34" x2="492.05" y2="517.34" stroke="#949494" stroke-width="1.0" />
<line x1="491.35" y1="303.67" x2="491.35" y2="307.67" stroke="#949494" stroke-width="1.0" />
<line x1="329.80" y1="522.35" x2="329.80" y2="520.35" stroke="#949494" stroke-width="1.0" />
<line x1="329.10" y1="304.84" x2="329.10" y2="306.84" stroke="#949494" stroke-width="1.0" />
<line x1="359.30" y1="522.17" x2="359.30" y2="520.17" stroke="#949494" stroke-width="1.0" />
<line x1="358.60" y1="304.63" x2="358.60" y2="306.63" stroke="#949494" stroke-width="1.0" />
<line x1="388.80" y1="521.98" x2="388.80" y2="519.98" stroke="#949494" stroke-width="1.0" />
<line x1="388.10" y1="304.41" x2="388.10" y2="306.41" stroke="#949494" stroke-width="1.0" />
<line x1="418.30" y1="521.80" x2="418.30" y2="519.80" stroke="#949494" stroke-width="1.0" />
<line x1="417.60" y1="304.20" x2="417.60" y2="306.20" stroke="#949494" stroke-width="1.0" />
<line x1="447.80" y1="521.62" x2="447.80" y2="519.62" stroke="#949494" stroke-width="1.0" />
<line x1="447.10" y1="303.99" x2="447.10" y2="305.99" stroke="#949494" stroke-width="1.0" />
<line x1="477.30" y1="521.43" x2="477.30" y2="519.43" stroke="#949494" stroke-width="1.0" />
<line x1="476.60" y1="303.77" x2="476.60" y2="305.77" stroke="#949494" stroke-width="1.0" />
<line x1="506.80" y1="521.25" x2="506.80" y2="519.25" stroke="#949494" stroke-width="1.0" />
<line x1="506.10" y1="303.56" x2="506.10" y2="305.56" stroke="#949494" stroke-width="1.0" />
<text x="308.09" y="505.70" font-size="12.6" font-weight="bold" textLength="7.57" lengthAdjust="spacingAndGlyphs">0</text>
<text x="308.08" y="462.08" font-size="12.6" font-weight="bold" textLength="7.57" lengthAdjust="spacingAndGlyphs">2</text>
<text x="307.60" y="418.46" font-size="12.6" font-weight="bold" textLength="7.57" lengthAdjust="spacingAndGlyphs">4</text>
<text x="308.02" y="374.84" font-size="12.6" font-weight="bold" textLength="7.57" lengthAdjust="spacingAndGlyphs">6</text>
<text x="307.96" y="331.22" font-size="12.6" font-weight="bold" textLength="7.57" lengthAdjust="spacingAndGlyphs">8</text>
<text x="339.20" y="539.40" font-size="12.6" font-weight="bold" textLength="8.31" lengthAdjust="spacingAndGlyphs">0</text>
<text x="366.21" y="539.40" font-size="12.6" font-weight="bold" textLength="15.57" lengthAdjust="spacingAndGlyphs">20</text>
<text x="396.00" y="539.40" font-size="12.6" font-weight="bold" textLength="15.17" lengthAdjust="spacingAndGlyphs">40</text>
<text x="424.87" y="539.40" font-size="12.6" font-weight="bold" textLength="15.92" lengthAdjust="spacingAndGlyphs">60</text>
<text x="454.76" y="539.40" font-size="12.6" font-weight="bold" textLength="15.42" lengthAdjust="spacingAndGlyphs">80</text>
<text x="481.23" y="539.40" font-size="12.6" font-weight="bold" textLength="23.04" lengthAdjust="spacingAndGlyphs">100</text>
<text x="343.32" y="558.80" font-size="14" font-weight="bold" textLength="63.02" lengthAdjust="spacingAndGlyphs">PERCENT</text>
<text x="416.80" y="558.80" font-size="14" font-weight="bold" textLength="40.79" lengthAdjust="spacingAndGlyphs">non–F</text>
<text x="462.37" y="558.80" font-size="14" font-weight="bold" textLength="42.74" lengthAdjust="spacingAndGlyphs">CELLS</text>
<text transform="translate(281.80,558.50) rotate(-90)" x="-0.59" y="0" font-size="13.8" font-weight="bold" textLength="107.95" lengthAdjust="spacingAndGlyphs">CD71-POSITIVE</text>
<text transform="translate(281.80,442.50) rotate(-90)" x="-0.38" y="0" font-size="13.8" font-weight="bold" textLength="48.40" lengthAdjust="spacingAndGlyphs">SICKLE</text>
<text transform="translate(281.80,384.40) rotate(-90)" x="-0.90" y="0" font-size="13.8" font-weight="bold" textLength="41.11" lengthAdjust="spacingAndGlyphs">non–F</text>
<text transform="translate(281.80,339.00) rotate(-90)" x="-0.53" y="0" font-size="13.8" font-weight="bold" textLength="42.13" lengthAdjust="spacingAndGlyphs">CELLS</text>
<text transform="translate(292.30,480.00) rotate(-90)" x="-0.66" y="0" font-size="13.2" font-weight="bold" textLength="4.40" lengthAdjust="spacingAndGlyphs">(</text>
<text transform="translate(292.30,470.70) rotate(-90)" x="-0.35" y="0" font-size="13.2" font-weight="bold" textLength="12.31" lengthAdjust="spacingAndGlyphs">%</text>
<text transform="translate(292.30,452.10) rotate(-90)" x="-0.18" y="0" font-size="13.2" font-weight="bold" textLength="32.06" lengthAdjust="spacingAndGlyphs">total</text>
<text transform="translate(292.30,415.90) rotate(-90)" x="-0.95" y="0" font-size="13.2" font-weight="bold" textLength="22.40" lengthAdjust="spacingAndGlyphs">red</text>
<text transform="translate(292.30,389.80) rotate(-90)" x="-0.49" y="0" font-size="13.2" font-weight="bold" textLength="27.70" lengthAdjust="spacingAndGlyphs">cells</text>
<text transform="translate(292.30,358.72) rotate(-90)" x="-0.01" y="0" font-size="13.2" font-weight="bold" textLength="4.40" lengthAdjust="spacingAndGlyphs">)</text>
<text x="487.41" y="332.60" font-size="25.9" font-weight="bold" textLength="18.26" lengthAdjust="spacingAndGlyphs">D</text>
<text x="343.02" y="340.90" font-size="11.8" font-weight="bold" textLength="8.43" lengthAdjust="spacingAndGlyphs">R</text>
<text x="357.69" y="340.90" font-size="11.8" font-weight="bold" textLength="8.51" lengthAdjust="spacingAndGlyphs">=</text>
<text x="372.12" y="340.90" font-size="11.8" font-weight="bold" textLength="36.22" lengthAdjust="spacingAndGlyphs">0.817</text>
<text x="343.99" y="353.90" font-size="11.8" font-weight="bold" font-style="italic" textLength="7.90" lengthAdjust="spacingAndGlyphs">P</text>
<text x="357.05" y="353.90" font-size="11.8" font-weight="bold" textLength="8.98" lengthAdjust="spacingAndGlyphs">&lt;</text>
<text x="372.14" y="353.90" font-size="11.8" font-weight="bold" textLength="58.65" lengthAdjust="spacingAndGlyphs">.0000001</text>
<text x="342.96" y="366.40" font-size="11.8" font-weight="bold" textLength="9.09" lengthAdjust="spacingAndGlyphs">N</text>
<text x="357.69" y="366.40" font-size="11.8" font-weight="bold" textLength="8.51" lengthAdjust="spacingAndGlyphs">=</text>
<text x="373.91" y="366.40" font-size="11.8" font-weight="bold" textLength="14.26" lengthAdjust="spacingAndGlyphs">34</text>
<path d="M344.20,473.77 L345.75,472.49 L347.31,471.21 L348.87,469.92 L350.42,468.62 L351.97,467.32 L353.53,466.01 L355.08,464.70 L356.64,463.37 L358.19,462.04 L359.75,460.69 L361.31,459.34 L362.86,457.98 L364.42,456.61 L365.97,455.22 L367.52,453.82 L369.08,452.41 L370.63,450.99 L372.19,449.55 L373.75,448.09 L375.30,446.62 L376.86,445.12 L378.41,443.61 L379.96,442.08 L381.52,440.53 L383.07,438.96 L384.63,437.36 L386.19,435.74 L387.74,434.09 L389.30,432.42 L390.85,430.73 L392.40,429.01 L393.96,427.26 L395.51,425.48 L397.07,423.68 L398.62,421.85 L400.18,420.00 L401.74,418.12 L403.29,416.21 L404.85,414.29 L406.40,412.33 L407.95,410.36 L409.51,408.36 L411.06,406.34 L412.62,404.30 L414.18,402.25 L415.73,400.17 L417.29,398.08 L418.84,395.97 L420.39,393.85 L421.95,391.71 L423.50,389.56 L425.06,387.39 L426.62,385.22 L428.17,383.03 L429.73,380.84 L431.28,378.63 L432.84,376.41 L434.39,374.19 L435.95,371.96 L437.50,369.72 L439.06,367.47 L440.61,365.22 L442.17,362.96 L443.72,360.70 L445.27,358.43 L446.83,356.15 L448.38,353.87 L449.94,351.59 L451.50,349.30 L453.05,347.01 L454.61,344.71 L456.16,342.41 L457.72,340.11 L459.27,337.80 L460.83,335.50 L462.38,333.18 L463.94,330.87 L465.49,328.55 L467.05,326.23 L468.60,323.91" fill="none" stroke="#000" stroke-width="1.3" stroke-dasharray="6 8"/>
<path d="M350.42,513.18 L351.97,510.93 L353.53,508.69 L355.08,506.46 L356.64,504.24 L358.19,502.03 L359.75,499.82 L361.31,497.62 L362.86,495.44 L364.42,493.26 L365.97,491.10 L367.52,488.95 L369.08,486.81 L370.63,484.69 L372.19,482.59 L373.75,480.49 L375.30,478.42 L376.86,476.36 L378.41,474.33 L379.96,472.31 L381.52,470.31 L383.07,468.34 L384.63,466.39 L386.19,464.46 L387.74,462.56 L389.30,460.68 L390.85,458.83 L392.40,457.00 L393.96,455.20 L395.51,453.43 L397.07,451.68 L398.62,449.96 L400.18,448.27 L401.74,446.60 L403.29,444.96 L404.85,443.34 L406.40,441.75 L407.95,440.17 L409.51,438.62 L411.06,437.09 L412.62,435.58 L414.18,434.09 L415.73,432.62 L417.29,431.17 L418.84,429.73 L420.39,428.30 L421.95,426.89 L423.50,425.49 L425.06,424.11 L426.62,422.74 L428.17,421.38 L429.73,420.02 L431.28,418.68 L432.84,417.35 L434.39,416.03 L435.95,414.71 L437.50,413.40 L439.06,412.10 L440.61,410.80 L442.17,409.51 L443.72,408.23 L445.27,406.95 L446.83,405.68 L448.38,404.41 L449.94,403.15 L451.50,401.89 L453.05,400.63 L454.61,399.38 L456.16,398.13 L457.72,396.89 L459.27,395.64 L460.83,394.41 L462.38,393.17" fill="none" stroke="#000" stroke-width="1.3" stroke-dasharray="6 8"/>
<line x1="346.00" y1="496.20" x2="467.90" y2="357.00" stroke="#000" stroke-width="1.4" />
<circle cx="445.3" cy="319.2" r="3.4"/>
<circle cx="431.8" cy="331.7" r="3.4"/>
<circle cx="463.5" cy="326.9" r="3.4"/>
<circle cx="468.2" cy="336.3" r="3.4"/>
<circle cx="447.8" cy="370.7" r="3.4"/>
<circle cx="418.5" cy="387.8" r="3.4"/>
<circle cx="413.4" cy="402.3" r="3.4"/>
<circle cx="377.8" cy="431.1" r="3.4"/>
<circle cx="389.6" cy="427.3" r="3.4"/>
<circle cx="380.8" cy="443.2" r="3.4"/>
<circle cx="364.2" cy="451.5" r="3.4"/>
<circle cx="380.8" cy="453.4" r="3.4"/>
<circle cx="380.6" cy="458.3" r="3.4"/>
<circle cx="393.6" cy="449.4" r="3.4"/>
<circle cx="393.2" cy="462.0" r="3.4"/>
<circle cx="400.0" cy="458.9" r="3.4"/>
<circle cx="395.0" cy="469.7" r="3.4"/>
<circle cx="405.7" cy="473.9" r="3.4"/>
<circle cx="402.0" cy="480.2" r="3.4"/>
<circle cx="386.6" cy="477.6" r="3.4"/>
<circle cx="364.5" cy="465.9" r="3.4"/>
<circle cx="360.8" cy="470.9" r="3.4"/>
<circle cx="347.2" cy="477.7" r="3.4"/>
<circle cx="352.8" cy="477.7" r="3.4"/>
<circle cx="363.8" cy="486.0" r="3.4"/>
<circle cx="349.1" cy="491.3" r="3.4"/>
<circle cx="345.9" cy="494.5" r="3.4"/>
<circle cx="343.7" cy="500.8" r="3.4"/>
<circle cx="345.5" cy="501.2" r="3.4"/>
<circle cx="421.5" cy="423.3" r="3.4"/>
<circle cx="417.1" cy="443.3" r="3.4"/>
<circle cx="446.6" cy="431.1" r="3.4"/>
<circle cx="444.9" cy="451.7" r="3.4"/>
</svg>
</body></html>
